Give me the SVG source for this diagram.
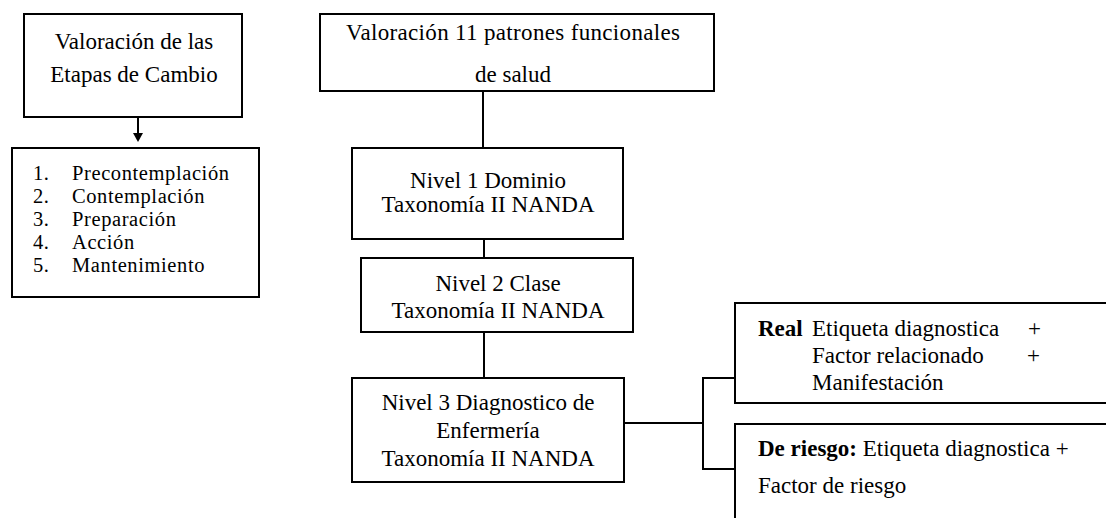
<svg xmlns="http://www.w3.org/2000/svg" width="1106" height="518" viewBox="0 0 1106 518">
<defs>
<style>
.box{fill:#fff;stroke:#000;stroke-width:2}
.ln{fill:none;stroke:#000;stroke-width:2}
text{font-family:"Liberation Serif","Times New Roman",serif;font-size:23px;fill:#000}
.c{text-anchor:middle}
.b{font-weight:bold}
.li{font-size:20.5px;letter-spacing:0.6px}
</style>
</defs>
<rect width="1106" height="518" fill="#fff"/>
<g id="connectors">
<line class="ln" x1="138" y1="117" x2="138" y2="134"/>
<polygon points="133,133 143,133 138,142" fill="#000"/>
<line class="ln" x1="483" y1="91" x2="483" y2="148"/>
<line class="ln" x1="484" y1="239" x2="484" y2="258"/>
<line class="ln" x1="484" y1="332" x2="484" y2="378"/>
<line class="ln" x1="624" y1="423" x2="703" y2="423"/>
<polyline class="ln" points="735,378 703,378 703,469 735,469"/>
</g>
<g id="etapas">
<rect class="box" x="24" y="14" width="218" height="103"/>
<text class="c" x="134" y="49">Valoración de las</text>
<text class="c" x="134" y="82">Etapas de Cambio</text>
</g>
<g id="lista">
<rect class="box" x="12" y="148" width="247" height="149"/>
<text class="li" x="33" y="180">1.</text><text class="li" x="72" y="180">Precontemplación</text>
<text class="li" x="33" y="203">2.</text><text class="li" x="72" y="203">Contemplación</text>
<text class="li" x="33" y="226">3.</text><text class="li" x="72" y="226">Preparación</text>
<text class="li" x="33" y="249">4.</text><text class="li" x="72" y="249">Acción</text>
<text class="li" x="33" y="272">5.</text><text class="li" x="72" y="272">Mantenimiento</text>
</g>
<g id="patrones">
<rect class="box" x="320" y="14" width="394" height="77"/>
<text class="c" x="513" y="40" textLength="334">Valoración 11 patrones funcionales</text>
<text class="c" x="513" y="82">de salud</text>
</g>
<g id="nivel1">
<rect class="box" x="352" y="148" width="271" height="91"/>
<text class="c" x="488" y="188">Nivel 1 Dominio</text>
<text class="c" x="488" y="212">Taxonomía II NANDA</text>
</g>
<g id="nivel2">
<rect class="box" x="361" y="258" width="272" height="74"/>
<text class="c" x="498" y="291">Nivel 2 Clase</text>
<text class="c" x="498" y="318">Taxonomía II NANDA</text>
</g>
<g id="nivel3">
<rect class="box" x="352" y="378" width="272" height="104"/>
<text class="c" x="488" y="410">Nivel 3 Diagnostico de</text>
<text class="c" x="488" y="438">Enfermería</text>
<text class="c" x="488" y="466">Taxonomía II NANDA</text>
</g>
<g id="real">
<rect class="box" x="735" y="303" width="400" height="100"/>
<text class="b" x="758" y="336">Real</text>
<text x="812" y="336">Etiqueta diagnostica</text><text x="1028" y="336">+</text>
<text x="812" y="363">Factor relacionado</text><text x="1027" y="363">+</text>
<text x="812" y="390">Manifestación</text>
</g>
<g id="riesgo">
<rect class="box" x="735" y="424" width="400" height="120"/>
<text x="758" y="456"><tspan class="b">De riesgo:</tspan> Etiqueta diagnostica +</text>
<text x="758" y="493">Factor de riesgo</text>
</g>
</svg>
